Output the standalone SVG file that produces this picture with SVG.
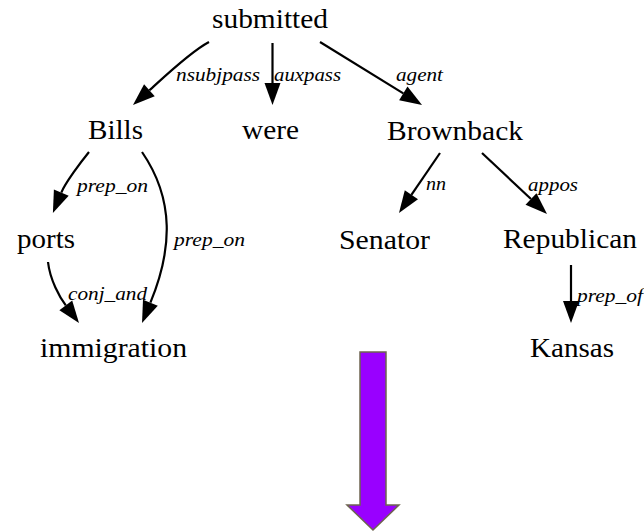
<svg xmlns="http://www.w3.org/2000/svg" width="644" height="532" viewBox="0 0 644 532">
<style>
.edge{fill:none;stroke:#000;stroke-width:2.2;}
.lbl{font-family:'Liberation Serif','Tinos','DejaVu Serif',serif;font-size:18px;font-style:italic;fill:#000;}
.nd{font-family:'Liberation Serif','Tinos','DejaVu Serif',serif;font-size:27px;fill:#000;}
</style>
<defs>
<marker id="ah" markerUnits="userSpaceOnUse" markerWidth="22" markerHeight="16" refX="0" refY="8" orient="auto" overflow="visible">
<path d="M0,0 L22,8 L0,16 z" fill="#000"/>
</marker>
</defs>
<rect width="644" height="532" fill="#fff"/>
<g id="edges">
<path class="edge" d="M209,42 C190,52 160.6,80.3 149.4,90.3" marker-end="url(#ah)"/>
<path class="edge" d="M272.5,43 L272.5,83" marker-end="url(#ah)"/>
<path class="edge" d="M320,42 L403.3,93.4" marker-end="url(#ah)"/>
<path class="edge" d="M89,152 C80,163 65.1,183.4 61.3,192.6" marker-end="url(#ah)"/>
<path class="edge" d="M142,152 C175,200 172.1,250 150.4,302.7" marker-end="url(#ah)"/>
<path class="edge" d="M48,262 C50,280 59.8,297.4 65.8,305.4" marker-end="url(#ah)"/>
<path class="edge" d="M440,153 L411.4,194.8" marker-end="url(#ah)"/>
<path class="edge" d="M482,153 L531,199" marker-end="url(#ah)"/>
<path class="edge" d="M571,265 L571,301" marker-end="url(#ah)"/>
<text class="lbl" x="176" y="81" textLength="84" lengthAdjust="spacingAndGlyphs">nsubjpass</text>
<text class="lbl" x="274" y="81" textLength="67" lengthAdjust="spacingAndGlyphs">auxpass</text>
<text class="lbl" x="396" y="81" textLength="47" lengthAdjust="spacingAndGlyphs">agent</text>
<text class="lbl" x="77" y="192" textLength="71" lengthAdjust="spacingAndGlyphs">prep_on</text>
<text class="lbl" x="174" y="246" textLength="71" lengthAdjust="spacingAndGlyphs">prep_on</text>
<text class="lbl" x="426" y="190" textLength="20" lengthAdjust="spacingAndGlyphs">nn</text>
<text class="lbl" x="528" y="191" textLength="50" lengthAdjust="spacingAndGlyphs">appos</text>
<text class="lbl" x="68" y="300" textLength="79" lengthAdjust="spacingAndGlyphs">conj_and</text>
<text class="lbl" x="577" y="302" textLength="66" lengthAdjust="spacingAndGlyphs">prep_of</text>
</g>
<g id="n-submitted"><text class="nd" x="212" y="28" textLength="116" lengthAdjust="spacingAndGlyphs">submitted</text></g>
<g id="n-bills"><text class="nd" x="88" y="139" textLength="55" lengthAdjust="spacingAndGlyphs">Bills</text></g>
<g id="n-were"><text class="nd" x="242" y="139" textLength="57" lengthAdjust="spacingAndGlyphs">were</text></g>
<g id="n-brownback"><text class="nd" x="387" y="140" textLength="136" lengthAdjust="spacingAndGlyphs">Brownback</text></g>
<g id="n-ports"><text class="nd" x="17" y="248" textLength="58" lengthAdjust="spacingAndGlyphs">ports</text></g>
<g id="n-senator"><text class="nd" x="339" y="249" textLength="91" lengthAdjust="spacingAndGlyphs">Senator</text></g>
<g id="n-republican"><text class="nd" x="503" y="248" textLength="134" lengthAdjust="spacingAndGlyphs">Republican</text></g>
<g id="n-immigration"><text class="nd" x="40" y="357" textLength="147" lengthAdjust="spacingAndGlyphs">immigration</text></g>
<g id="n-kansas"><text class="nd" x="530" y="357" textLength="84" lengthAdjust="spacingAndGlyphs">Kansas</text></g>
<g id="big-arrow">
<polygon points="360,352 386,352 386,505 399,505 373,530 347,505 360,505" fill="#9900ff" stroke="#6e6450" stroke-width="1.5"/>
</g>
</svg>
